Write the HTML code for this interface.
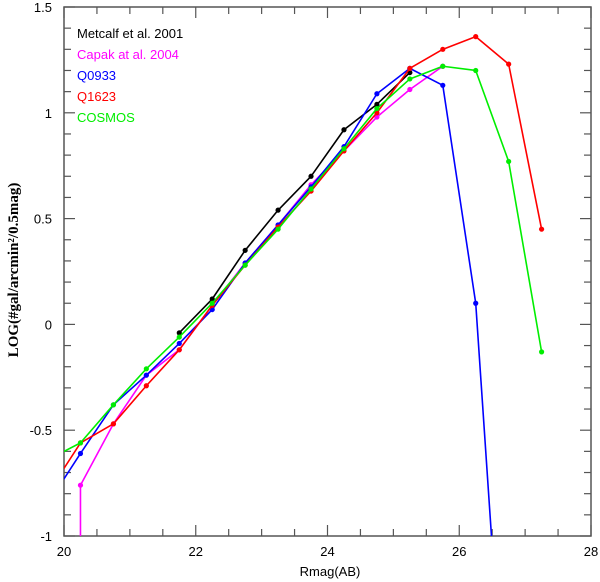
<!DOCTYPE html>
<html><head><meta charset="utf-8"><style>
html,body{margin:0;padding:0;background:#fff;width:600px;height:582px;overflow:hidden}
svg{display:block;position:absolute;left:0;top:0}
svg text{font-family:"Liberation Sans",sans-serif}
</style></head><body>
<svg id="chart" width="600" height="582" xmlns="http://www.w3.org/2000/svg">
<defs><clipPath id="clip"><rect x="64" y="7" width="527" height="529"/></clipPath></defs>
<g id="axes"></g>
<g id="series" clip-path="url(#clip)"></g>
<g id="legend"></g>
<text x="330" y="576" text-anchor="middle" font-size="13">Rmag(AB)</text>
<text transform="translate(18,270) rotate(-90)" text-anchor="middle" font-size="15" font-weight="bold" style="font-family:'Liberation Serif',serif">LOG(#gal/arcmin²/0.5mag)</text>
</svg>
<script>
const xTicks=[20,22,24,26,28];
const yTicks=[-1,-0.5,0,0.5,1,1.5];
const yTickLabels=["-1","-0.5","0","0.5","1","1.5"];
const seriesNames=["Metcalf et al. 2001","Capak at al. 2004","Q0933","Q1623","COSMOS"];
const seriesColors=["#000000","#ff00ff","#0000ff","#ff0000","#00ee00"];
const metcalfX=[21.75,22.25,22.75,23.25,23.75,24.25,24.75,25.25];
const metcalfY=[-0.04,0.12,0.35,0.54,0.70,0.92,1.04,1.19];
const capakX=[20.25,20.25,20.75,21.25,21.75,22.25,22.75,23.25,23.75,24.25,24.75,25.25,25.75];
const capakY=[-1.2,-0.76,-0.47,-0.24,-0.12,0.09,0.29,0.47,0.66,0.82,0.98,1.11,1.22];
const q0933X=[19.75,20.25,20.75,21.25,21.75,22.25,22.75,23.25,23.75,24.25,24.75,25.25,25.75,26.25,26.75];
const q0933Y=[-0.85,-0.61,-0.38,-0.24,-0.09,0.07,0.29,0.47,0.65,0.84,1.09,1.21,1.13,0.10,-2.2];
const q1623X=[19.75,20.25,20.75,21.25,21.75,22.25,22.75,23.25,23.75,24.25,24.75,25.25,25.75,26.25,26.75,27.25];
const q1623Y=[-0.8,-0.56,-0.47,-0.29,-0.12,0.09,0.28,0.46,0.63,0.82,1.00,1.21,1.30,1.36,1.23,0.45];
const cosmosX=[19.75,20.25,20.75,21.25,21.75,22.25,22.75,23.25,23.75,24.25,24.75,25.25,25.75,26.25,26.75,27.25];
const cosmosY=[-0.64,-0.56,-0.38,-0.21,-0.06,0.10,0.28,0.45,0.64,0.83,1.02,1.16,1.22,1.20,0.77,-0.13];
const seriesX=[metcalfX,capakX,q0933X,q1623X,cosmosX];
const seriesY=[metcalfY,capakY,q0933Y,q1623Y,cosmosY];
const L=64,R=591,T=7,B=536;
const XMIN=20,XMAX=28,YMIN=-1,YMAX=1.5;
const sx=v=>L+(v-XMIN)/(XMAX-XMIN)*(R-L);
const sy=v=>B-(v-YMIN)/(YMAX-YMIN)*(B-T);
const NS="http://www.w3.org/2000/svg";
function mk(tag,attrs,parent){const e=document.createElementNS(NS,tag);for(const k in attrs)e.setAttribute(k,attrs[k]);parent.appendChild(e);return e;}
// clip a segment to the data window (Liang-Barsky)
function clipSeg(x0,y0,x1,y1){let t0=0,t1=1;const dx=x1-x0,dy=y1-y0;
const p=[-dx,dx,-dy,dy],q=[x0-XMIN,XMAX-x0,y0-YMIN,YMAX-y0];
for(let i=0;i<4;i++){if(p[i]===0){if(q[i]<0)return null;}else{const r=q[i]/p[i];if(p[i]<0){if(r>t1)return null;if(r>t0)t0=r;}else{if(r<t0)return null;if(r<t1)t1=r;}}}
return [x0+t0*dx,y0+t0*dy,x0+t1*dx,y0+t1*dy];}
const ax=document.getElementById('axes');
const frame=mk('rect',{x:L,y:T,width:R-L,height:B-T,fill:'none',stroke:'#555','stroke-width':1.5},ax);


for(let v=20;v<=28.001;v+=0.5){const major=Math.abs(v-Math.round(v/2)*2)<1e-6;const len=major?11:7;const x=sx(v);
mk('line',{x1:x,y1:B,x2:x,y2:B-len,stroke:'#555','stroke-width':1.2},ax);
mk('line',{x1:x,y1:T,x2:x,y2:T+len,stroke:'#555','stroke-width':1.2},ax);}
for(let i=0;i<=25;i++){const v=-1+i*0.1;const major=i%5===0;const len=major?11:7;const y=sy(v);
mk('line',{x1:L,y1:y,x2:L+len,y2:y,stroke:'#555','stroke-width':1.2},ax);
mk('line',{x1:R,y1:y,x2:R-len,y2:y,stroke:'#555','stroke-width':1.2},ax);}
xTicks.forEach(v=>{const t=mk('text',{x:sx(v),y:B+20,'text-anchor':'middle','font-size':13},ax);t.textContent=v;

});
yTicks.forEach((v,i)=>{const t=mk('text',{x:L-12,y:sy(v)+5,'text-anchor':'end','font-size':13},ax);t.textContent=yTickLabels[i];

});
const sg=document.getElementById('series');
seriesX.forEach((xs,s)=>{const c=seriesColors[s];const ys=seriesY[s];
const g=mk('g',{},sg);


for(let i=0;i<xs.length-1;i++){const seg=clipSeg(xs[i],ys[i],xs[i+1],ys[i+1]);if(!seg)continue;
const ln=mk('line',{x1:sx(seg[0]),y1:sy(seg[1]),x2:sx(seg[2]),y2:sy(seg[3]),stroke:c,'stroke-width':1.6,'stroke-linecap':'round'},g);

}
xs.forEach((x,i)=>{const y=ys[i];if(x<XMIN||x>XMAX||y<YMIN||y>YMAX)return;
const p=mk('circle',{cx:sx(x),cy:sy(y),r:2.6,fill:c},g);

});});
const lg=document.getElementById('legend');
seriesNames.forEach((n,i)=>{const t=mk('text',{x:77,y:38+i*21,'font-size':13,fill:seriesColors[i]},lg);t.textContent=n;

});
</script>
</body></html>
